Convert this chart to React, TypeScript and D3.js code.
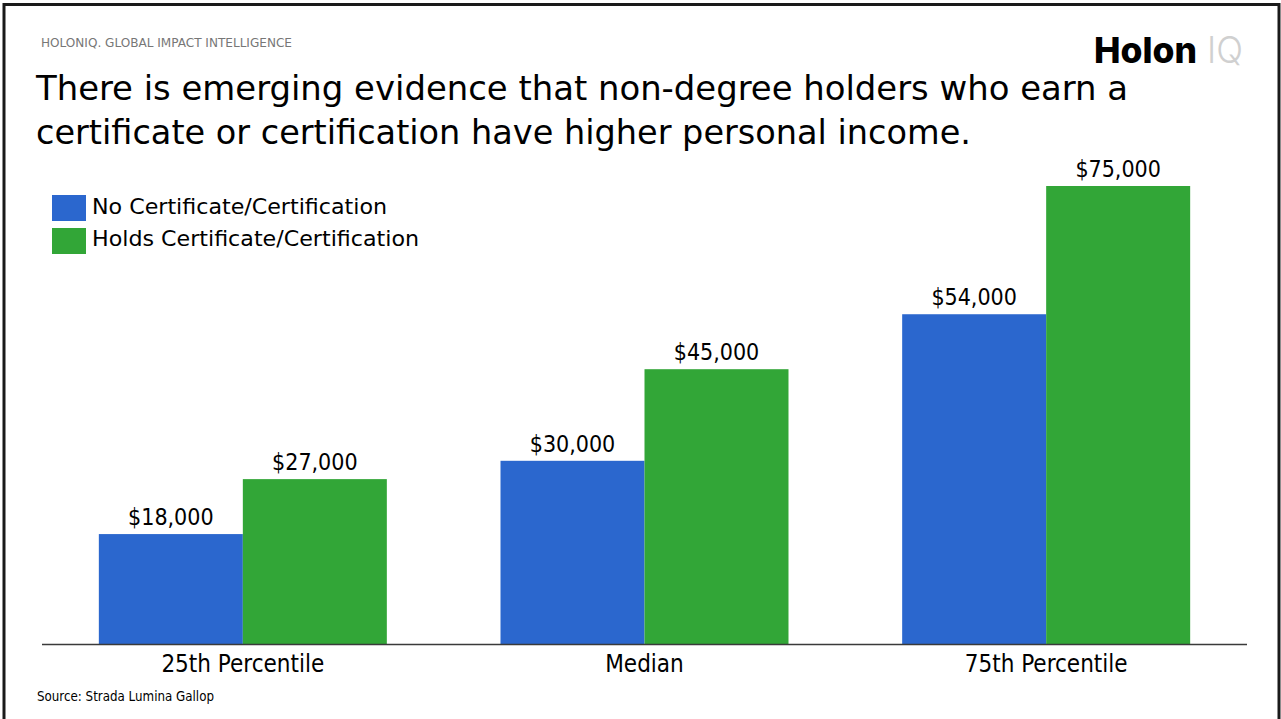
import React from "react";
import * as d3 from "d3";

const categories = ["25th Percentile", "Median", "75th Percentile"];
const seriesNames = ["No Certificate/Certification", "Holds Certificate/Certification"];
const noCertValues = [18000, 30000, 54000];
const holdsCertValues = [27000, 45000, 75000];
const seriesColors = ["#2B67CE", "#32A637"];
const titleLines = [
  "There is emerging evidence that non-degree holders who earn a",
  "certificate or certification have higher personal income.",
];

const W = 1281;
const H = 719;
const FONT = "'DejaVu Sans Condensed', 'DejaVu Sans', Tahoma, sans-serif";

export default function App() {
  const x0 = d3
    .scaleBand<string>()
    .domain(categories)
    .range([42, 1247])
    .paddingInner(0.283)
    .paddingOuter(0.1415);
  const x1 = d3
    .scaleBand<number>()
    .domain([0, 1])
    .range([0, x0.bandwidth()]);
  const y = d3.scaleLinear().domain([0, 75000]).range([644, 186]);
  const seriesValues = [noCertValues, holdsCertValues];
  const fmt = (v: number) => "$" + d3.format(",")(v);

  return (
    <svg
      width={W}
      height={H}
      style={{ position: "absolute", left: 0, top: 0, background: "#fff" }}
      fontFamily={FONT}
    >
      <rect x={0} y={0} width={W} height={H} fill="#fff" />
      <rect x={4} y={4.5} width={1275} height={H + 20} fill="none" stroke="#1a1a1a" strokeWidth={3} />

      <text x={41} y={47} fontSize={12} fill="#777" textLength={251} lengthAdjust="spacingAndGlyphs">
        HOLONIQ.  GLOBAL  IMPACT  INTELLIGENCE
      </text>

      <g>
        <text x={1094} y={63} fontFamily="Inter, Roboto, sans-serif" fontWeight={800} fontSize={36} fill="#000" textLength={103} lengthAdjust="spacingAndGlyphs">
          Holon
        </text>
        <text x={1207} y={63} fontFamily="Inter, Roboto, sans-serif" fontWeight={300} fontSize={37} fill="#d0d0d0" textLength={36} lengthAdjust="spacingAndGlyphs">
          IQ
        </text>
      </g>

      {titleLines.map((t, i) => (
        <text
          key={i}
          x={36}
          y={100 + i * 44}
          fontSize={34}
          fill="#000"
          textLength={i === 0 ? 1092 : 935}
          lengthAdjust="spacingAndGlyphs"
        >
          {t}
        </text>
      ))}

      {seriesNames.map((s, i) => (
        <g key={s}>
          <rect x={52} y={195 + i * 33} width={34} height={26} fill={seriesColors[i]} />
          <text x={92} y={213.5 + i * 32.5} fontSize={22} fill="#000" textLength={i === 0 ? 295 : 327} lengthAdjust="spacingAndGlyphs">
            {s}
          </text>
        </g>
      ))}

      {categories.map((c, ci) => (
        <g key={c} transform={`translate(${x0(c)},0)`}>
          {seriesValues.map((vals, si) => (
            <g key={si}>
              <rect
                x={x1(si)}
                y={y(vals[ci])}
                width={x1.bandwidth()}
                height={y(0) - y(vals[ci])}
                fill={seriesColors[si]}
              />
              <text
                x={(x1(si) as number) + x1.bandwidth() / 2}
                y={y(vals[ci]) - 9}
                textAnchor="middle"
                fontSize={23}
                fill="#000"
              >
                {fmt(vals[ci])}
              </text>
            </g>
          ))}
          <text x={x0.bandwidth() / 2} y={672} textAnchor="middle" fontSize={24} fill="#000">
            {c}
          </text>
        </g>
      ))}

      <line x1={42} x2={1247} y1={644.5} y2={644.5} stroke="#3a3a3a" strokeWidth={1.5} />

      <text x={37} y={701} fontSize={14} fill="#000" textLength={177} lengthAdjust="spacingAndGlyphs">
        Source: Strada Lumina Gallop
      </text>
    </svg>
  );
}
